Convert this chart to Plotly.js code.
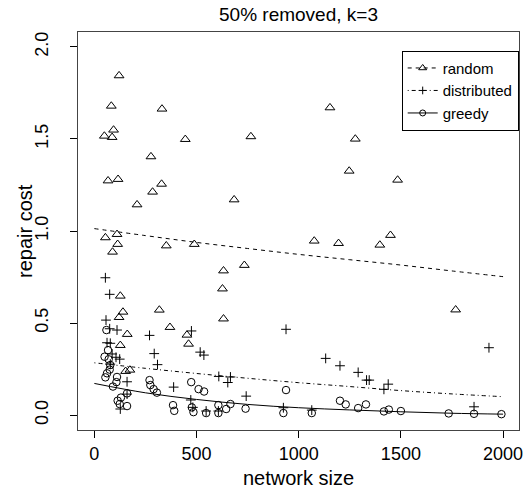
<!DOCTYPE html>
<html><head><meta charset="utf-8">
<script src="https://cdn.plot.ly/plotly-3.0.1.min.js"></script>
<style>html,body{margin:0;padding:0;background:#fff}#chart{width:530px;height:493px}</style>
</head><body><div id="chart"></div>
<script>
const chartTitle = '50% removed, k=3';
const xTitle = 'network size';
const yTitle = 'repair cost';
const seriesNames = ['random', 'distributed', 'greedy'];
const xTickVals = [0, 500, 1000, 1500, 2000];
const yTickVals = [0, 0.5, 1.0, 1.5, 2.0];

const randomX = [121, 83, 331, 94, 49, 87, 445, 766, 277, 67, 116, 329, 285, 209, 684, 54, 111, 114, 352, 489, 1153, 1277, 1247, 1484, 1076, 1195, 1397, 1449, 89, 632, 627, 632, 127, 140, 121, 318, 370, 161, 127, 453, 461, 153, 174, 734, 1768];
const randomY = [1.844, 1.679, 1.663, 1.549, 1.516, 1.509, 1.498, 1.513, 1.404, 1.273, 1.281, 1.255, 1.212, 1.143, 1.170, 0.964, 0.982, 0.928, 0.920, 0.928, 1.670, 1.500, 1.326, 1.277, 0.946, 0.933, 0.924, 0.977, 0.886, 0.784, 0.686, 0.523, 0.647, 0.560, 0.531, 0.571, 0.477, 0.439, 0.379, 0.435, 0.386, 0.238, 0.245, 0.814, 0.572];

const distributedX = [54, 75, 57, 75, 111, 62, 78, 87, 106, 78, 124, 160, 160, 127, 270, 293, 309, 475, 518, 536, 388, 472, 482, 547, 607, 609, 666, 653, 743, 938, 925, 1064, 1132, 1202, 1291, 1332, 1345, 1438, 1417, 1858, 1931];
const distributedY = [0.746, 0.656, 0.516, 0.469, 0.462, 0.393, 0.390, 0.332, 0.314, 0.277, 0.304, 0.181, 0.114, 0.033, 0.433, 0.334, 0.274, 0.457, 0.342, 0.326, 0.152, 0.082, 0.042, 0.022, 0.022, 0.210, 0.207, 0.177, 0.103, 0.466, 0.040, 0.027, 0.308, 0.268, 0.232, 0.190, 0.190, 0.168, 0.140, 0.045, 0.366];

const greedyX = [59, 67, 50, 78, 75, 62, 54, 111, 108, 91, 130, 114, 124, 160, 160, 270, 274, 290, 306, 474, 510, 537, 385, 391, 477, 485, 547, 607, 607, 645, 666, 740, 938, 925, 1064, 1202, 1230, 1291, 1329, 1417, 1441, 1500, 1734, 1858, 1992, 70];
const greedyY = [0.462, 0.353, 0.317, 0.272, 0.247, 0.227, 0.205, 0.207, 0.179, 0.155, 0.095, 0.078, 0.060, 0.049, 0.118, 0.190, 0.163, 0.141, 0.122, 0.179, 0.141, 0.128, 0.054, 0.023, 0.042, 0.016, 0.011, 0.054, 0.011, 0.033, 0.060, 0.035, 0.136, 0.011, 0.011, 0.078, 0.058, 0.038, 0.058, 0.020, 0.030, 0.022, 0.009, 0.007, 0.005, 0.303];

const fitX = [0, 250, 500, 750, 1000, 1250, 1500, 1750, 2000];
const randomFitY = [1.013, 0.975, 0.938, 0.905, 0.873, 0.844, 0.815, 0.783, 0.752];
const distributedFitY = [0.284, 0.254, 0.226, 0.200, 0.176, 0.155, 0.133, 0.115, 0.100];
const greedyFitY = [0.172, 0.121, 0.085, 0.058, 0.040, 0.028, 0.018, 0.010, 0.005];

const FONT = '"Liberation Sans", Arial, Helvetica, sans-serif';
const styles = [
  {dash: '4px,4px', symbol: 'triangle-up-open', size: 8.5},
  {dash: '1px,3px,4px,3px', symbol: 'cross-thin-open', size: 7},
  {dash: 'solid', symbol: 'circle-open', size: 7.5}
];
const ptsX = [randomX, distributedX, greedyX];
const ptsY = [randomY, distributedY, greedyY];
const fitY = [randomFitY, distributedFitY, greedyFitY];

const traces = [];
for (let i = 0; i < 3; i++) {
  traces.push({x: fitX, y: fitY[i], mode: 'lines', type: 'scatter', showlegend: false, hoverinfo: 'skip',
    line: {color: '#000', width: 1, dash: styles[i].dash, shape: 'spline', smoothing: 1}});
}
for (let i = 0; i < 3; i++) {
  traces.push({x: ptsX[i], y: ptsY[i], mode: 'markers', type: 'scatter', showlegend: false, name: seriesNames[i],
    marker: {symbol: styles[i].symbol, size: styles[i].size, color: '#000', line: {color: '#000', width: 1}}});
}
for (let i = 0; i < 3; i++) {
  traces.push({x: [null], y: [null], mode: 'lines+markers', type: 'scatter', name: seriesNames[i], showlegend: true,
    line: {color: '#000', width: 1, dash: styles[i].dash},
    marker: {symbol: styles[i].symbol, size: styles[i].size - 1.5, color: '#000', line: {color: '#000', width: 1}}});
}

const layout = {
  width: 530, height: 493,
  margin: {l: 78, r: 11, t: 32, b: 63, pad: 0},
  paper_bgcolor: '#fff', plot_bgcolor: '#fff',
  font: {family: FONT, size: 18, color: '#000'},
  title: {text: chartTitle, font: {family: FONT, size: 19, color: '#000'}, x: 0.5, xref: 'paper', y: 1 - 14/493, yanchor: 'middle'},
  xaxis: {
    range: [-80, 2078], tickvals: xTickVals, ticktext: xTickVals.map(String),
    showgrid: false, zeroline: false, showline: true, mirror: true, linecolor: '#444', linewidth: 1.4,
    ticks: 'outside', ticklen: 7, tickcolor: '#000', tickwidth: 1, ticklabelstandoff: 0,
    tickfont: {family: FONT, size: 18, color: '#000'},
    title: {text: xTitle, font: {family: FONT, size: 20, color: '#000'}, standoff: 8},
    automargin: false
  },
  yaxis: {
    range: [-0.081, 2.081], tickvals: yTickVals, tickformat: '.1f', tickangle: -90,
    showgrid: false, zeroline: false, showline: true, mirror: true, linecolor: '#444', linewidth: 1.4,
    ticks: 'outside', ticklen: 7, tickcolor: '#000', tickwidth: 1, ticklabelstandoff: 14,
    tickfont: {family: FONT, size: 18, color: '#000'},
    automargin: false
  },
  annotations: [{
    text: yTitle, xref: 'paper', yref: 'paper', x: (25 - 78) / 441, y: 0.5,
    xanchor: 'center', yanchor: 'middle', textangle: -90, showarrow: false,
    font: {family: FONT, size: 20, color: '#000'}
  }],
  legend: {
    x: 0.734, y: 0.953, xanchor: 'left', yanchor: 'top',
    bordercolor: '#000', borderwidth: 1, bgcolor: '#fff',
    font: {family: FONT, size: 15, color: '#000'},
    itemwidth: 30, tracegroupgap: 0
  },
  showlegend: true
};

Plotly.newPlot('chart', traces, layout, {staticPlot: true, displayModeBar: false});
</script>
</body></html>
